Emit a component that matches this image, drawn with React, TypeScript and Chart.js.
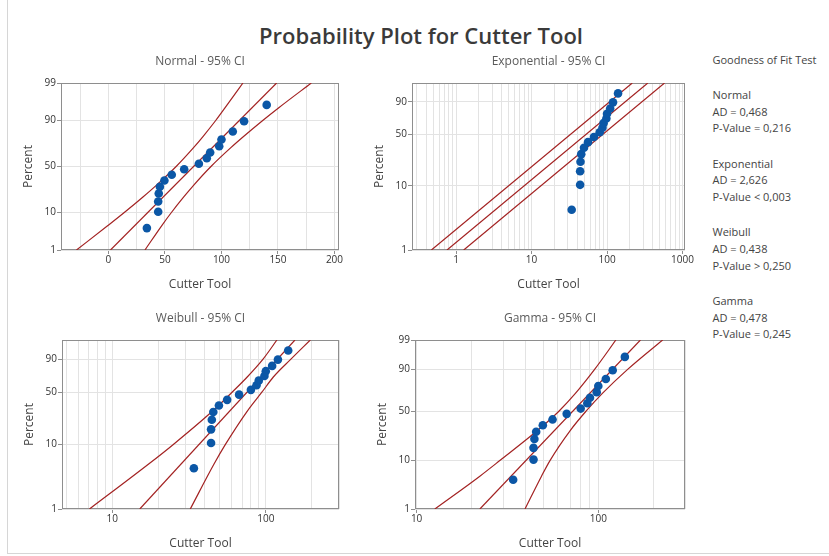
import React, { useEffect, useRef } from 'react';
import { Chart, registerables, Scale } from 'chart.js';

Chart.register(...registerables);

// ---------------- data ----------------
const chartTitle = 'Probability Plot for Cutter Tool';
const xAxisTitle = 'Cutter Tool';
const yAxisTitle = 'Percent';

// observed data (sorted) and their plotted percents
const cutterTool = [34, 44, 44, 44.5, 45.5, 49.5, 56, 67, 80, 87, 90, 98, 100, 110, 120, 140];
const plotPercent = [4.3, 10.4, 16.5, 22.6, 28.7, 34.8, 40.9, 47.0, 53.0, 59.1, 65.2, 71.3, 77.4, 83.5, 89.6, 95.7];

// Normal - 95% CI
const normalPct = [1, 5, 10, 20, 30, 50, 70, 80, 90, 95, 99];
const normalLower = [-28.3, -0.5, 14.0, 30.8, 42.3, 59.9, 75.3, 83.8, 94.9, 103.4, 119.0];
const normalUpper = [32.3, 47.2, 55.7, 66.8, 75.3, 90.7, 108.3, 119.8, 136.5, 151.0, 179.5];
const normalFitPct = [1, 99];
const normalFit = [1.8, 148.8];

// Exponential - 95% CI
const expPct = [1, 99];
const expLower = [0.47, 216];
const expFit = [0.757, 347];
const expUpper = [1.26, 578];

// Weibull - 95% CI
const weibullPct = [1, 5, 10, 30, 50, 70, 90, 99];
const weibullLower = [7.1, 17.25, 25.1, 45.4, 60.3, 75.7, 96.0, 118.2];
const weibullUpper = [32.2, 46.0, 54.7, 76.2, 94.3, 112.0, 145.8, 195.0];
const weibullFitPct = [1, 99];
const weibullFit = [15.1, 154.9];

// Gamma - 95% CI
const gammaPct = [1, 5, 10, 30, 50, 70, 90, 99];
const gammaLower = [12.6, 22.2, 28.7, 46.4, 60.7, 74.8, 95.2, 125];
const gammaUpper = [39.5, 48.6, 54.2, 70.2, 85.6, 105.3, 144.5, 226];
const gammaFitPct = [1, 99];
const gammaFit = [22.3, 170.5];

// axis ticks
const pctGridAll = [1, 10, 50, 90, 99];
const pctLabelsAll = [1, 10, 50, 90, 99];
const pctLabelsNo99 = [1, 10, 50, 90];
const normalXGrid = [-25, 0, 25, 50, 75, 100, 125, 150, 175, 200];
const normalXLabels = [0, 50, 100, 150, 200];
const expXGrid = [0.3, 0.4, 0.5, 0.6, 0.7, 0.8, 0.9, 1, 2, 3, 4, 5, 6, 7, 8, 9, 10, 20, 30, 40, 50, 60, 70, 80, 90, 100, 200, 300, 400, 500, 600, 700, 800, 900, 1000];
const expXLabels = [1, 10, 100, 1000];
const weibullXGrid = [5, 6, 7, 8, 9, 10, 20, 30, 40, 50, 60, 70, 80, 90, 100, 200, 300];
const gammaXGrid = [10, 20, 30, 40, 50, 60, 70, 80, 90, 100, 200, 300];
const decadeLabels = [10, 100];

// goodness of fit
const gofHeading = 'Goodness of Fit Test';
const gofNames = ['Normal', 'Exponential', 'Weibull', 'Gamma'];
const gofAD = ['0,468', '2,626', '0,438', '0,478'];
const gofPOp = ['=', '<', '>', '='];
const gofP = ['0,216', '0,003', '0,250', '0,245'];

// shape used by the gamma probability axis
const GAMMA_AXIS_SHAPE = 6.5;

// ---------------- styles ----------------
const FONT = '"Open Sans", "Noto Sans", sans-serif';
const RED = '#a32222';
const DOT = '#0b57a6';
const GRID = '#e3e3e3';
const FRAME = '#8e8e8e';
const TICK_TEXT = '#333333';
const Y_W = 54;
const X_H = 44;
const TITLE_H = 35;
const PAD_R = 16;

Chart.defaults.font.family = FONT;

// ---------------- probability axis transforms ----------------
function normInv(p: number): number {
  const a = [-3.969683028665376e1, 2.209460984245205e2, -2.759285104469687e2, 1.38357751867269e2, -3.066479806614716e1, 2.506628277459239];
  const b = [-5.447609879822406e1, 1.615858368580409e2, -1.556989798598866e2, 6.680131188771972e1, -1.328068155288572e1];
  const c = [-7.784894002430293e-3, -3.223964580411365e-1, -2.400758277161838, -2.549732539343734, 4.374664141464968, 2.938163982698783];
  const d = [7.784695709041462e-3, 3.224671290700398e-1, 2.445134137142996, 3.754408661907416];
  const pl = 0.02425;
  if (p < pl) {
    const q = Math.sqrt(-2 * Math.log(p));
    return (((((c[0] * q + c[1]) * q + c[2]) * q + c[3]) * q + c[4]) * q + c[5]) / ((((d[0] * q + d[1]) * q + d[2]) * q + d[3]) * q + 1);
  }
  if (p > 1 - pl) {
    const q = Math.sqrt(-2 * Math.log(1 - p));
    return -(((((c[0] * q + c[1]) * q + c[2]) * q + c[3]) * q + c[4]) * q + c[5]) / ((((d[0] * q + d[1]) * q + d[2]) * q + d[3]) * q + 1);
  }
  const q = p - 0.5;
  const r = q * q;
  return ((((((a[0] * r + a[1]) * r + a[2]) * r + a[3]) * r + a[4]) * r + a[5]) * q) / (((((b[0] * r + b[1]) * r + b[2]) * r + b[3]) * r + b[4]) * r + 1);
}

const fLinear = (v: number) => v;
const fLog = (v: number) => Math.log10(v);
const fNormal = (v: number) => normInv(v / 100);
const fWeibull = (v: number) => Math.log(-Math.log(1 - v / 100));
const fGamma = (v: number) => {
  const k = GAMMA_AXIS_SHAPE;
  const s = Math.sqrt(1 / (9 * k));
  return Math.log(k * Math.pow(1 - 1 / (9 * k) + normInv(v / 100) * s, 3));
};

function makeScale(id: string, fwd: (v: number) => number): any {
  class TransformScale extends (Scale as any) {
    static id = id;
    static defaults = {};
    _fs = 0;
    _fr = 1;
    determineDataLimits() {
      const o: any = (this as any).options;
      (this as any).min = o.min;
      (this as any).max = o.max;
    }
    buildTicks() {
      return [];
    }
    configure() {
      super.configure();
      this._fs = fwd((this as any).min);
      this._fr = fwd((this as any).max) - this._fs;
    }
    getPixelForValue(v: number) {
      return (this as any).getPixelForDecimal((fwd(v) - this._fs) / this._fr);
    }
    getValueForPixel(px: number) {
      const target = this._fs + (this as any).getDecimalForPixel(px) * this._fr;
      let lo = (this as any).min;
      let hi = (this as any).max;
      for (let i = 0; i < 60; i++) {
        const mid = (lo + hi) / 2;
        if (fwd(mid) < target) lo = mid;
        else hi = mid;
      }
      return (lo + hi) / 2;
    }
    getLabelForValue(v: number) {
      return String(v);
    }
  }
  return TransformScale;
}

Chart.register(
  makeScale('axisLinear', fLinear),
  makeScale('axisLog', fLog),
  makeScale('cdfNormal', fNormal),
  makeScale('cdfWeibull', fWeibull),
  makeScale('cdfGamma', fGamma)
);

const framePlugin = {
  id: 'plotFrame',
  beforeDatasetsDraw(chart: any) {
    const { ctx, chartArea: a } = chart;
    ctx.save();
    ctx.strokeStyle = FRAME;
    ctx.lineWidth = 1;
    ctx.strokeRect(a.left + 0.5, a.top + 0.5, a.right - a.left - 1, a.bottom - a.top - 1);
    ctx.restore();
  },
};

type Line = { x: number[]; y: number[]; smooth: boolean };
type PanelSpec = {
  title: string;
  frame: [number, number, number, number];
  xType: string;
  xMin: number;
  xMax: number;
  xGrid: number[];
  xLabels: number[];
  yType: string;
  yGrid: number[];
  yLabels: number[];
  lines: Line[];
};

function axis(kind: 'x' | 'y', type: string, min: number, max: number, grid: number[], labels: number[]) {
  return {
    type,
    position: kind === 'x' ? 'bottom' : 'left',
    min,
    max,
    afterBuildTicks: (s: any) => {
      s.ticks = grid.map((v) => ({ value: v }));
    },
    afterFit: (s: any) => {
      if (kind === 'x') s.height = X_H;
      else s.width = Y_W;
    },
    ticks: {
      autoSkip: false,
      maxRotation: 0,
      minRotation: 0,
      padding: kind === 'x' ? 0 : 1,
      color: TICK_TEXT,
      font: { size: 10, family: FONT },
      callback: (v: number) => (labels.indexOf(v) >= 0 ? String(v) : ''),
    },
    grid: {
      color: GRID,
      lineWidth: 1,
      drawTicks: true,
      tickLength: 4,
      tickWidth: 1,
      tickColor: (c: any) => (c.tick && c.tick.label ? FRAME : 'rgba(0,0,0,0)'),
    },
    border: { display: false },
    title: {
      display: true,
      text: kind === 'x' ? xAxisTitle : yAxisTitle,
      color: '#444444',
      font: { size: 12, family: FONT },
      padding: kind === 'x' ? { top: 0, bottom: 2.3 } : { top: 14.8, bottom: 0 },
    },
  };
}

function Panel({ spec }: { spec: PanelSpec }) {
  const ref = useRef<HTMLCanvasElement | null>(null);
  const [l, t, r, b] = spec.frame;
  const left = l - Y_W;
  const top = t - TITLE_H;
  const width = r - l + Y_W + PAD_R;
  const height = b - t + TITLE_H + X_H;

  useEffect(() => {
    if (!ref.current) return;
    const datasets: any[] = [
      {
        data: cutterTool.map((x, i) => ({ x, y: plotPercent[i] })),
        showLine: false,
        pointRadius: 4.3,
        pointBackgroundColor: DOT,
        pointBorderWidth: 0,
      },
      ...spec.lines.map((ln) => ({
        data: ln.x.map((x, i) => ({ x, y: ln.y[i] })),
        showLine: true,
        borderColor: RED,
        borderWidth: 1.2,
        pointRadius: 0,
        tension: 0,
        cubicInterpolationMode: ln.smooth ? 'monotone' : 'default',
      })),
    ];
    const chart = new Chart(ref.current, {
      type: 'scatter',
      data: { datasets },
      options: {
        animation: false,
        responsive: false,
        events: [],
        layout: { padding: { left: 0, right: PAD_R, top: 0, bottom: 0 } },
        plugins: {
          legend: { display: false },
          tooltip: { enabled: false },
          title: {
            display: true,
            text: spec.title,
            color: '#5a5a5a',
            fullSize: false,
            font: { size: 12, weight: 'normal', family: FONT },
            padding: { top: 6.8, bottom: 13.8 },
          },
        },
        scales: {
          x: axis('x', spec.xType, spec.xMin, spec.xMax, spec.xGrid, spec.xLabels),
          y: axis('y', spec.yType, 1, 99, spec.yGrid, spec.yLabels),
        },
      } as any,
      plugins: [framePlugin],
    } as any);
    return () => chart.destroy();
  }, []);

  return <canvas ref={ref} width={width} height={height} style={{ position: 'absolute', left, top, width, height }} />;
}

const panels: PanelSpec[] = [
  {
    title: 'Normal - 95% CI',
    frame: [61, 83, 339, 250],
    xType: 'axisLinear',
    xMin: -42,
    xMax: 204,
    xGrid: normalXGrid,
    xLabels: normalXLabels,
    yType: 'cdfNormal',
    yGrid: pctGridAll,
    yLabels: pctLabelsAll,
    lines: [
      { x: normalLower, y: normalPct, smooth: true },
      { x: normalFit, y: normalFitPct, smooth: false },
      { x: normalUpper, y: normalPct, smooth: true },
    ],
  },
  {
    title: 'Exponential - 95% CI',
    frame: [412, 83, 685, 250],
    xType: 'axisLog',
    xMin: 0.26,
    xMax: 1080,
    xGrid: expXGrid,
    xLabels: expXLabels,
    yType: 'cdfWeibull',
    yGrid: pctGridAll,
    yLabels: pctLabelsNo99,
    lines: [
      { x: expLower, y: expPct, smooth: false },
      { x: expFit, y: expPct, smooth: false },
      { x: expUpper, y: expPct, smooth: false },
    ],
  },
  {
    title: 'Weibull - 95% CI',
    frame: [62, 340, 339, 509],
    xType: 'axisLog',
    xMin: 4.7,
    xMax: 300,
    xGrid: weibullXGrid,
    xLabels: decadeLabels,
    yType: 'cdfWeibull',
    yGrid: pctGridAll,
    yLabels: pctLabelsNo99,
    lines: [
      { x: weibullLower, y: weibullPct, smooth: true },
      { x: weibullFit, y: weibullFitPct, smooth: false },
      { x: weibullUpper, y: weibullPct, smooth: true },
    ],
  },
  {
    title: 'Gamma - 95% CI',
    frame: [415, 340, 685, 509],
    xType: 'axisLog',
    xMin: 9.8,
    xMax: 300,
    xGrid: gammaXGrid,
    xLabels: decadeLabels,
    yType: 'cdfGamma',
    yGrid: pctGridAll,
    yLabels: pctLabelsAll,
    lines: [
      { x: gammaLower, y: gammaPct, smooth: true },
      { x: gammaFit, y: gammaFitPct, smooth: false },
      { x: gammaUpper, y: gammaPct, smooth: true },
    ],
  },
];

const GOF_X = 712.5;
const GOF_LINE = 16.6;
const GOF_GROUP = 68.7;
const GOF_FIRST = 95;

function GofText({ text, cy }: { text: string; cy: number }) {
  return (
    <div
      style={{
        position: 'absolute',
        left: GOF_X,
        top: cy - 7,
        height: 14,
        lineHeight: '14px',
        fontFamily: FONT,
        fontSize: 11,
        color: '#444444',
        whiteSpace: 'nowrap',
      }}
    >
      {text}
    </div>
  );
}

export default function App() {
  return (
    <div style={{ position: 'absolute', left: 0, top: 0, width: 829, height: 556, background: '#ffffff', overflow: 'hidden' }}>
      <div style={{ position: 'absolute', left: 7, top: 0, width: 1, height: 553, background: '#d6d6d6' }} />
      <div style={{ position: 'absolute', left: 7, top: 553, width: 822, height: 1, background: '#d6d6d6' }} />
      <div
        style={{
          position: 'absolute',
          left: 221,
          top: 20.5,
          width: 400,
          textAlign: 'center',
          fontFamily: FONT,
          fontWeight: 600,
          fontSize: 22,
          lineHeight: '28px',
          color: '#3a3a3a',
          whiteSpace: 'nowrap',
        }}
      >
        {chartTitle}
      </div>
      {panels.map((p) => (
        <Panel key={p.title} spec={p} />
      ))}
      <GofText text={gofHeading} cy={60} />
      {gofNames.map((name, g) => {
        const y0 = GOF_FIRST + g * GOF_GROUP;
        return (
          <React.Fragment key={name}>
            <GofText text={name} cy={y0} />
            <GofText text={`AD = ${gofAD[g]}`} cy={y0 + GOF_LINE} />
            <GofText text={`P-Value ${gofPOp[g]} ${gofP[g]}`} cy={y0 + 2 * GOF_LINE} />
          </React.Fragment>
        );
      })}
    </div>
  );
}
